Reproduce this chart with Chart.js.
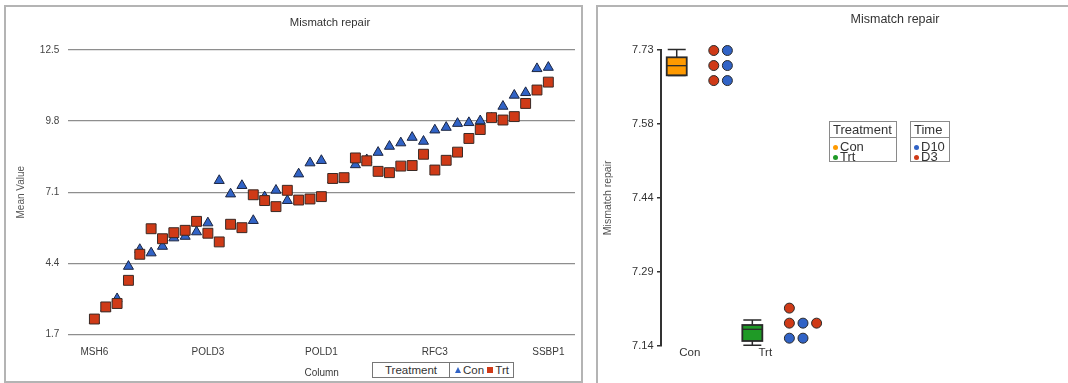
<!DOCTYPE html>
<html>
<head>
<meta charset="utf-8">
<script src="https://cdn.jsdelivr.net/npm/chart.js@4.4.1/dist/chart.umd.min.js"></script>
<style>
html, body { margin: 0; padding: 0; background: #fff; overflow: hidden; width: 1068px; height: 383px; }
body { font-family: "Liberation Sans", Arial, sans-serif; color: #333; position: relative; }
canvas { position: absolute; top: 0; }
.frame { position: absolute; border: 2px solid #b4b4b4; box-sizing: border-box; pointer-events: none; }
.title { position: absolute; transform: translate(-50%, -50%); white-space: nowrap; color: #333; }
.lg { position: absolute; border: 1.5px solid #8a8a8a; box-sizing: border-box; background: #fff; }
.lg .hd { border-bottom: 1.5px solid #8a8a8a; height: 15px; line-height: 15px; font-size: 13px; padding-left: 3px; }
.lg .it { font-size: 13px; line-height: 10.3px; padding-left: 3px; white-space: nowrap; }
.lg .hd + .it { margin-top: 4px; }
.dot { display: inline-block; width: 5px; height: 5px; border-radius: 50%; margin-right: 2px; vertical-align: 1px; }
.lgrow { position: absolute; border: 1.2px solid #777; box-sizing: border-box; display: flex; font-size: 11.5px; height: 16px; line-height: 14px; background: #fff; }
.lgrow .c1 { width: 76px; text-align: center; border-right: 1.2px solid #777; }
.lgrow .c2 { padding-left: 5px; white-space: nowrap; }
.mk { display: inline-block; vertical-align: 1px; margin-right: 2px; }
</style>
</head>
<body>
<canvas id="left" width="590" height="383" style="left:0;width:590px;height:383px"></canvas>
<canvas id="right" width="478" height="383" style="left:590px;width:478px;height:383px"></canvas>
<div class="frame" style="left:4px;top:5px;width:579px;height:378px"></div>
<div class="frame" style="left:596px;top:5px;width:520px;height:420px"></div>
<div class="title" style="left:330px;top:22px;font-size:11.3px">Mismatch repair</div>
<div class="title" style="left:895px;top:19px;font-size:12.5px">Mismatch repair</div>
<div class="lgrow" id="leftLegend" style="left:372px;top:362px;width:142px"></div>
<div class="lg" id="treatLegend" style="left:829px;top:121px;width:68px;height:41px"></div>
<div class="lg" id="timeLegend" style="left:910px;top:121px;width:40px;height:41px"></div>

<script>
// ---- left panel: mean value per gene, sorted
const genes = ['MSH6', '', '', '', '', '', '', '', '', '',
               'POLD3', '', '', '', '', '', '', '', '', '',
               'POLD1', '', '', '', '', '', '', '', '', '',
               'RFC3', '', '', '', '', '', '', '', '', '',
               'SSBP1'];
const labelIdx = [0, 10, 20, 30, 40];
const conMeans = [2.23, 2.69, 3.05, 4.28, 4.92, 4.79, 5.04, 5.36, 5.42, 5.59,
                  5.93, 7.54, 7.03, 7.35, 6.02, 6.92, 7.17, 6.78, 7.79, 8.21,
                  8.30, 7.57, 7.60, 8.14, 8.33, 8.61, 8.84, 8.97, 9.18, 9.03,
                  9.46, 9.56, 9.71, 9.74, 9.81, 9.91, 10.36, 10.78, 10.88, 11.79,
                  11.84];
const trtMeans = [2.28, 2.74, 2.87, 3.75, 4.74, 5.71, 5.33, 5.56, 5.65, 5.99,
                  5.54, 5.21, 5.88, 5.75, 7.00, 6.78, 6.55, 7.17, 6.80, 6.84,
                  6.93, 7.62, 7.65, 8.40, 8.29, 7.89, 7.84, 8.09, 8.11, 8.54,
                  7.94, 8.31, 8.62, 9.14, 9.48, 9.93, 9.84, 9.97, 10.47, 10.98,
                  11.28];
const leftTicks = [1.7, 4.4, 7.1, 9.8, 12.5];

// ---- right panel: pathway score per sample
const groups = ['Con', 'Trt'];
const conScores = [7.729, 7.729, 7.699, 7.699, 7.669, 7.669];
const conTimes  = ['D3', 'D10', 'D3', 'D10', 'D3', 'D10'];
const trtScores = [7.215, 7.185, 7.185, 7.185, 7.155, 7.155];
const trtTimes  = ['D3', 'D3', 'D10', 'D3', 'D10', 'D10'];
// box stats: min, q1, median, q3, max
const conBox = [7.679, 7.6795, 7.6987, 7.7154, 7.731];
const trtBox = [7.1408, 7.1494, 7.1727, 7.1813, 7.1913];
const rightTicks = [7.14, 7.2875, 7.435, 7.5825, 7.73];
const times = ['D10', 'D3'];

const blue = '#3163c6';
const red = '#cf3a17';
const groupColors = ['#ff9a00', '#1f9a26'];
const timeColors = { D10: blue, D3: red };

const font = '"Liberation Sans", Arial, sans-serif';

new Chart(document.getElementById('left').getContext('2d'), {
    type: 'scatter',
    data: {
        datasets: [{
            label: 'Trt',
            data: trtMeans.map((v, i) => ({ x: i, y: v })),
            pointStyle: 'rect',
            pointRadius: 7,
            backgroundColor: red,
            borderColor: '#3a2a25',
            borderWidth: 1,
            order: 0
        }, {
            label: 'Con',
            data: conMeans.map((v, i) => ({ x: i, y: v })),
            pointStyle: 'triangle',
            pointRadius: 5.8,
            backgroundColor: blue,
            borderColor: '#1c2540',
            borderWidth: 1,
            order: 1
        }]
    },
    options: {
        responsive: false,
        animation: false,
        layout: { padding: { left: 11, right: 15, top: 50, bottom: 0 } },
        plugins: { legend: { display: false }, tooltip: { enabled: false } },
        scales: {
            x: {
                type: 'linear',
                min: -2.3,
                max: 42.35,
                afterBuildTicks: s => { s.ticks = labelIdx.map(v => ({ value: v })); },
                afterFit: s => { s.height = 48.7; },
                grid: { display: false },
                border: { display: false },
                ticks: {
                    autoSkip: false, maxRotation: 0, padding: 4,
                    color: '#3a3a3a', font: { family: font, size: 10 },
                    callback: v => genes[v]
                },
                title: {
                    display: true, text: 'Column', color: '#3a3a3a',
                    font: { family: font, size: 10 }, padding: { top: 0, bottom: 4 }
                }
            },
            y: {
                min: 1.7,
                max: 12.5,
                afterBuildTicks: s => { s.ticks = leftTicks.map(v => ({ value: v })); },
                afterFit: s => { s.width = 57.3; },
                grid: { color: '#8e8e8e', lineWidth: 1.3, drawTicks: false },
                border: { display: false },
                ticks: {
                    padding: 9, color: '#444', font: { family: font, size: 10 },
                    callback: v => v.toFixed(1)
                },
                title: {
                    display: true, text: 'Mean Value', color: '#555',
                    font: { family: font, size: 10 }, padding: { top: 4, bottom: 4 }
                }
            }
        }
    }
});

// lay dots out side by side when they share a value
const dotStart = 0.49, dotStep = 0.18;
function swarm(scores, tms, gi) {
    const seen = {};
    return scores.map((v, k) => {
        const n = seen[v] || 0;
        seen[v] = n + 1;
        return { x: gi + dotStart + n * dotStep, y: v, t: tms[k] };
    });
}
const allDots = swarm(conScores, conTimes, 0).concat(swarm(trtScores, trtTimes, 1));

const boxPlugin = {
    id: 'boxes',
    beforeDatasetsDraw(chart) {
        const { ctx, scales: { x, y } } = chart;
        [conBox, trtBox].forEach((b, i) => {
            const cx = x.getPixelForValue(i);
            const half = 10, cap = 9;
            const [mn, q1, md, q3, mx] = b.map(v => y.getPixelForValue(v));
            ctx.save();
            ctx.strokeStyle = '#2a2a2a';
            ctx.lineWidth = 1.5;
            ctx.beginPath();
            ctx.moveTo(cx, q3); ctx.lineTo(cx, mx);
            ctx.moveTo(cx - cap, mx); ctx.lineTo(cx + cap, mx);
            ctx.moveTo(cx, q1); ctx.lineTo(cx, mn);
            ctx.moveTo(cx - cap, mn); ctx.lineTo(cx + cap, mn);
            ctx.stroke();
            ctx.fillStyle = groupColors[i];
            ctx.fillRect(cx - half, q3, half * 2, q1 - q3);
            ctx.lineWidth = 1.8;
            ctx.strokeRect(cx - half, q3, half * 2, q1 - q3);
            ctx.lineWidth = 1.3;
            ctx.beginPath();
            ctx.moveTo(cx - half, md); ctx.lineTo(cx + half, md);
            ctx.stroke();
            ctx.restore();
        });
    }
};

new Chart(document.getElementById('right').getContext('2d'), {
    type: 'scatter',
    data: {
        datasets: times.map(t => ({
            label: t,
            data: allDots.filter(d => d.t === t),
            pointRadius: 5,
            backgroundColor: timeColors[t],
            borderColor: '#2a2a2a',
            borderWidth: 1,
            clip: false
        }))
    },
    options: {
        responsive: false,
        animation: false,
        layout: { padding: { left: 7.4, right: 10, top: 50, bottom: 0 } },
        plugins: { legend: { display: false }, tooltip: { enabled: false } },
        scales: {
            x: {
                type: 'linear',
                min: -0.208,
                max: 5.043,
                afterBuildTicks: s => { s.ticks = groups.map((g, i) => ({ value: i })); },
                afterFit: s => { s.height = 37.3; },
                grid: { display: false },
                border: { display: false },
                ticks: {
                    autoSkip: false, maxRotation: 0, padding: -7, labelOffset: 13,
                    color: '#333', font: { family: font, size: 11.5, lineHeight: 1 },
                    callback: v => groups[v]
                }
            },
            y: {
                min: 7.14,
                max: 7.73,
                afterBuildTicks: s => { s.ticks = rightTicks.map(v => ({ value: v })); },
                afterFit: s => { s.width = 63.6; },
                grid: { drawOnChartArea: false, drawTicks: true, tickLength: 4, color: '#333', lineWidth: 1.5 },
                border: { display: true, color: '#333', width: 2 },
                ticks: {
                    padding: 3.5, color: '#333', font: { family: font, size: 11 },
                    callback: v => (Math.round(v * 100 + 1e-6) / 100).toFixed(2)
                },
                title: {
                    display: true, text: 'Mismatch repair', color: '#555',
                    font: { family: font, size: 10.5 }, padding: { top: 4, bottom: 4 }
                }
            }
        }
    },
    plugins: [boxPlugin]
});

// legends
document.getElementById('leftLegend').innerHTML =
    '<div class="c1">Treatment</div><div class="c2">' +
    '<svg class="mk" width="6" height="6"><polygon points="3,0 6,6 0,6" fill="' + blue + '"/></svg>Con ' +
    '<svg class="mk" width="6" height="6"><rect width="6" height="6" fill="' + red + '"/></svg>Trt</div>';

document.getElementById('treatLegend').innerHTML = '<div class="hd">Treatment</div>' +
    groups.map((g, i) => '<div class="it"><span class="dot" style="background:' + groupColors[i] + '"></span>' + g + '</div>').join('');
document.getElementById('timeLegend').innerHTML = '<div class="hd">Time</div>' +
    times.map(t => '<div class="it"><span class="dot" style="background:' + timeColors[t] + '"></span>' + t + '</div>').join('');
</script>
</body>
</html>
